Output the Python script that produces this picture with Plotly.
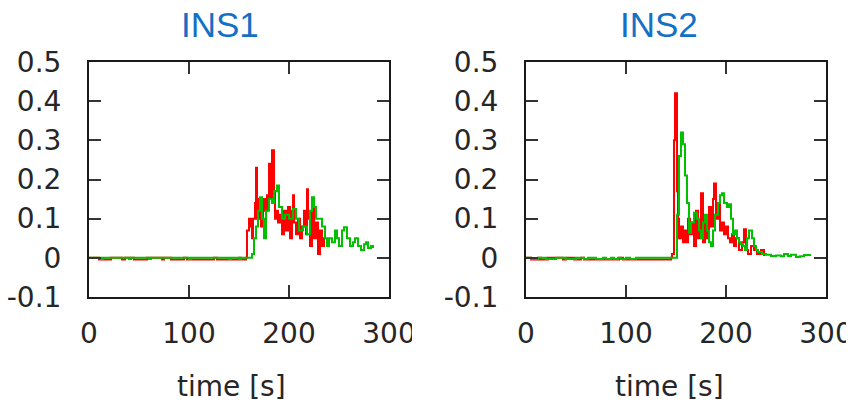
import plotly.graph_objects as go
from plotly.subplots import make_subplots

# ---------------- data ----------------
panel_titles = ["INS1", "INS2"]
x_title = "time [s]"
x_ticks = [0, 100, 200, 300]
y_ticks = [-0.1, 0, 0.1, 0.2, 0.3, 0.4, 0.5]
y_tick_text = ["-0.1", "0", "0.1", "0.2", "0.3", "0.4", "0.5"]

ins1_red_t = [0, 10, 22, 33, 36, 45, 58, 73, 75, 82, 95, 98, 125, 128, 150, 152, 157,
              158, 160, 162, 163, 164, 166, 167, 168, 170, 172, 174, 176, 178, 179, 180,
              182, 183, 185, 186, 188, 189, 191, 193, 195, 197, 199, 201, 203, 204, 205,
              207, 209, 211, 213, 215, 217, 218, 219, 221, 223, 225, 227, 229, 231, 233,
              235, 236]
ins1_red_v = [0, -0.004, 0, -0.004, 0, -0.004, 0, -0.004, 0, -0.004, 0, -0.004, 0, -0.004, 0, -0.004, 0,
              0.07, 0.10, 0.08, 0.05, 0.10, 0.14, 0.23, 0.10, 0.15, 0.08, 0.15, 0.12, 0.16, 0.13, 0.24,
              0.15, 0.275, 0.17, 0.10, 0.12, 0.09, 0.11, 0.06, 0.12, 0.07, 0.13, 0.05, 0.12, 0.16, 0.09,
              0.06, 0.10, 0.05, 0.08, 0.12, 0.06, 0.175, 0.10, 0.03, 0.14, 0.05, 0.09, 0.01, 0.07, 0.03,
              0.05, 0.05]

ins1_green_t = [0, 12, 14, 40, 42, 60, 62, 100, 102, 140, 142, 150, 152, 163,
                165, 167, 169, 171, 173, 175, 177, 180, 183, 185, 188, 190, 193, 196, 200,
                204, 207, 210, 214, 218, 221, 223, 225, 227, 230, 233, 236, 238, 240, 243,
                246, 248, 250, 253, 255, 258, 261, 264, 266, 269, 272, 275, 277, 279, 282, 284]
ins1_green_v = [0, -0.003, 0, -0.003, 0, -0.003, 0, -0.003, 0, -0.003, 0, -0.003, 0, 0.01,
                0.05, 0.08, 0.12, 0.155, 0.10, 0.05, 0.12, 0.15, 0.14, 0.17, 0.185, 0.13, 0.10, 0.11, 0.10,
                0.125, 0.10, 0.07, 0.08, 0.06, 0.12, 0.155, 0.13, 0.10, 0.10, 0.08, 0.05, 0.03, 0.05, 0.04,
                0.07, 0.05, 0.03, 0.07, 0.078, 0.05, 0.03, 0.04, 0.05, 0.03, 0.02, 0.035, 0.04, 0.025, 0.03, 0.025]

ins2_red_t = [0, 5, 13, 15, 22, 37, 40, 48, 55, 58, 93, 97, 145,
              146, 148, 149, 151, 152, 153, 155, 157, 159, 161, 162, 164, 166, 168, 170, 172,
              174, 175, 177, 179, 181, 183, 185, 187, 188, 190, 192, 194, 196, 198, 200,
              202, 204, 206, 208, 210, 213, 216, 218, 220, 222, 225, 228, 231, 235, 238]
ins2_red_v = [0, -0.004, 0, -0.004, 0, -0.004, 0, -0.004, 0, -0.004, 0, -0.004, 0,
              0.01, 0.30, 0.42, 0.17, 0.10, 0.05, 0.08, 0.04, 0.07, 0.04, 0.10, 0.06, 0.09, 0.03, 0.12, 0.05,
              0.07, 0.165, 0.04, 0.10, 0.05, 0.13, 0.08, 0.15, 0.19, 0.10, 0.14, 0.07, 0.09, 0.06, 0.08,
              0.05, 0.04, 0.06, 0.03, 0.05, 0.02, 0.04, 0.073, 0.02, 0.01, 0.03, 0.02, 0.01, 0.02, 0.005]

ins2_green_t = [0, 5, 12, 20, 30, 40, 50, 58, 62, 70, 77, 80, 85, 88, 92, 95, 100, 104, 110, 150,
                151, 153, 155, 157, 159, 161, 163, 165, 168, 171, 173, 175, 177, 179, 181, 183,
                185, 187, 189, 192, 194, 196, 198, 201, 203, 205, 207, 209, 211, 213, 215, 217,
                219, 221, 223, 226, 228, 230, 232, 236, 240, 245, 250, 255, 258, 262, 265, 270, 274, 278, 284]
ins2_green_v = [0, -0.003, 0, -0.003, 0, -0.003, 0, -0.003, 0, -0.003, 0, -0.003, 0, -0.003, 0, -0.003, 0, -0.003, 0, 0,
                0.11, 0.26, 0.32, 0.29, 0.21, 0.14, 0.064, 0.09, 0.115, 0.10, 0.07, 0.05, 0.09, 0.11, 0.07, 0.04,
                0.03, 0.07, 0.11, 0.14, 0.16, 0.165, 0.14, 0.13, 0.137, 0.10, 0.06, 0.07, 0.05, 0.04, 0.035, 0.03,
                0.02, 0.05, 0.07, 0.05, 0.03, 0.02, 0.015, 0.01, 0.008, 0.005, 0.006, 0.004, 0.01, 0.005, 0.008, 0.002, 0.004, 0.007, 0.005]

series = [
    (1, ins1_red_t, ins1_red_v, "#ff0000"),
    (1, ins1_green_t, ins1_green_v, "#00c000"),
    (2, ins2_red_t, ins2_red_v, "#ff0000"),
    (2, ins2_green_t, ins2_green_v, "#00c000"),
]

# ---------------- figure ----------------
OFF = 8                      # page body margin of the browser
W, H = 854 - OFF, 405 - OFF  # figure size so that it fits the window
TOP, BOT = 62 - OFF, 297 - OFF   # plot area top / bottom in figure pixels
PH = BOT - TOP
fig = make_subplots(rows=1, cols=2)

for col, t, v, c in series:
    fig.add_trace(go.Scatter(x=t, y=v, mode="lines", line=dict(color=c, width=2, shape="hv"),
                             showlegend=False, hoverinfo="skip"), row=1, col=col)

font_txt = dict(family="DejaVu Sans", size=28, color="#262626")
axis_common = dict(showgrid=False, zeroline=False, showline=True, mirror="ticks",
                   linecolor="#1a1a1a", linewidth=2, ticks="inside", ticklen=12,
                   tickwidth=2, tickcolor="#333333", tickfont=font_txt)


def px_x(x):
    return (x - OFF) / W


def py(ypx):
    return (BOT - (ypx - OFF)) / PH


domains = [(px_x(89), px_x(389)), (px_x(526), px_x(826))]
for i, (d0, d1) in enumerate(domains, start=1):
    fig.update_xaxes(domain=[d0, d1], range=[0, 300], tickvals=x_ticks,
                     ticklabelstandoff=10, row=1, col=i, **axis_common)
    fig.update_yaxes(range=[-0.1, 0.5], tickvals=y_ticks, ticktext=y_tick_text,
                     ticklabelstandoff=20, row=1, col=i, **axis_common)

annotations = []
title_x = [220, 659]
xlabel_x = [231, 669]
for name, tx, lx in zip(panel_titles, title_x, xlabel_x):
    annotations.append(dict(text=name, x=px_x(tx), y=py(24), xref="paper", yref="paper",
                            xanchor="center", yanchor="middle", showarrow=False,
                            font=dict(family="Liberation Sans", size=35, color="#1470c4")))
    annotations.append(dict(text=x_title, x=px_x(lx), y=py(386), xref="paper", yref="paper",
                            xanchor="center", yanchor="middle", showarrow=False, font=font_txt))

fig.update_layout(
    width=W, height=H,
    margin=dict(l=0, r=0, t=TOP, b=H - BOT, autoexpand=False),
    paper_bgcolor="white", plot_bgcolor="white",
    annotations=annotations,
    shapes=[dict(type="rect", xref="paper", yref="paper", x0=px_x(412), x1=px_x(427),
                 y0=py(352), y1=py(314), fillcolor="white", line=dict(width=0), layer="above")],
)

fig.write_html("out.html")
